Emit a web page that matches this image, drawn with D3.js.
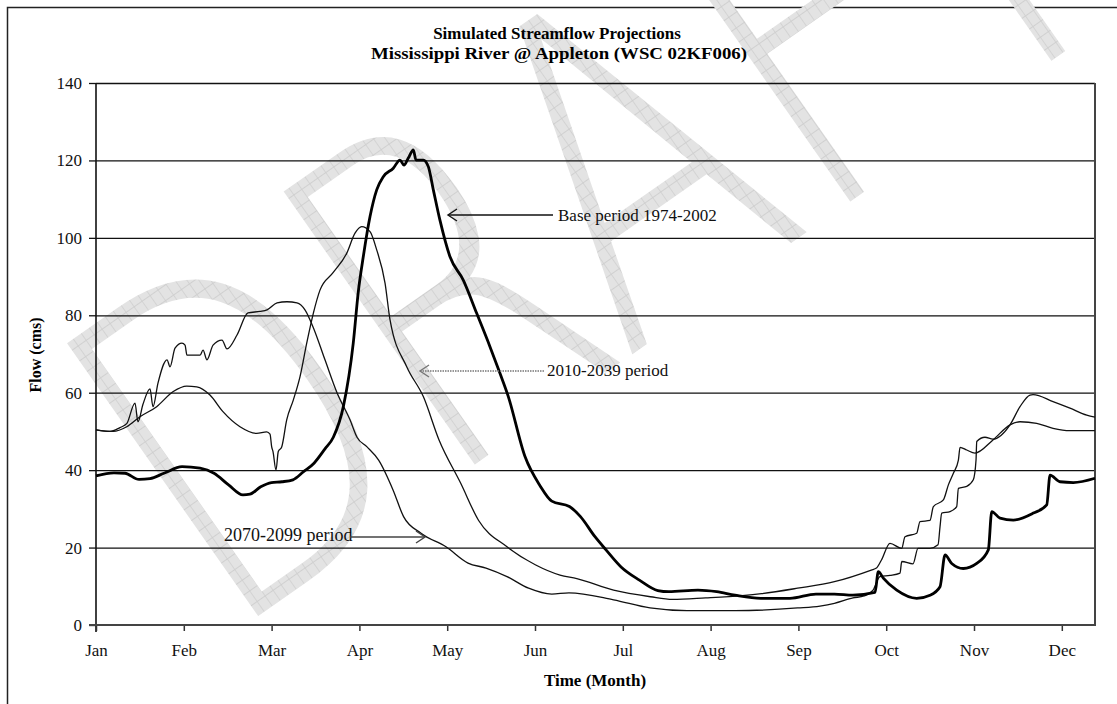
<!DOCTYPE html>
<html><head><meta charset="utf-8">
<script src="https://cdn.jsdelivr.net/npm/d3@7"></script>
<style>body{margin:0;background:#fff} svg{display:block}</style>
</head><body><svg id="c" width="1117" height="704"></svg>
<script>
const titleLines = ["Simulated Streamflow Projections", "Mississippi River @ Appleton (WSC 02KF006)"];
const months = ["Jan","Feb","Mar","Apr","May","Jun","Jul","Aug","Sep","Oct","Nov","Dec"];
const yTicks = [0,20,40,60,80,100,120,140];
// x = position in months from Jan 1 (month ticks equally spaced), y = flow (cms)
const basePeriod = [[0,38.5],[0.205,39.3],[0.33,39.2],[0.49,37.6],[0.615,37.8],[0.774,39.2],[0.98,40.9],[1.185,40.5],[1.344,39.2],[1.51,36.2],[1.674,33.6],[1.754,33.8],[1.876,35.7],[1.998,36.8],[2.118,37],[2.243,37.5],[2.364,39.6],[2.483,41.8],[2.608,45.5],[2.703,48.5],[2.817,56.4],[2.93,72.8],[2.987,86],[3.044,95.1],[3.121,105.5],[3.197,112.4],[3.272,115.8],[3.386,118],[3.462,120.1],[3.508,118.8],[3.557,120.6],[3.614,122.7],[3.645,120.1],[3.728,120.1],[3.785,118.4],[3.842,112.4],[3.918,104.5],[4.032,95.1],[4.183,89.1],[4.336,80.5],[4.487,71.9],[4.601,65],[4.696,59],[4.886,43.5],[5.057,36],[5.191,32],[5.392,30.6],[5.518,28],[5.683,22.8],[5.809,19.4],[5.98,15],[6.189,11.6],[6.399,8.9],[6.524,8.6],[6.856,9],[7.069,8.6],[7.278,7.7],[7.572,6.9],[7.904,6.9],[8.2,8],[8.41,8],[8.62,7.7],[8.872,8.4],[8.91,13.8],[8.967,12.1],[9.12,9],[9.347,6.9],[9.499,7.7],[9.613,9.9],[9.67,18.1],[9.746,15.9],[9.878,14.6],[10.031,15.9],[10.163,19.4],[10.202,29.3],[10.296,27.6],[10.448,27.1],[10.676,28.9],[10.828,31],[10.866,38.7],[10.98,37],[11.131,36.8],[11.378,37.9]];
const period2010 = [[0,50.4],[0.194,50],[0.35,51.2],[0.501,53.8],[0.691,56.4],[0.88,60.3],[1.033,61.7],[1.147,61.5],[1.298,59.4],[1.446,55.1],[1.64,51.2],[1.83,49.5],[1.944,49.9],[1.982,49.3],[2.001,46],[2.016,44.8],[2.05,40],[2.076,44.8],[2.115,46],[2.172,53],[2.247,58.1],[2.323,64.1],[2.4,72.8],[2.475,80.5],[2.551,86.5],[2.7,91],[2.855,96],[2.95,101.2],[3.026,102.9],[3.121,101.6],[3.197,96.9],[3.292,88.3],[3.349,78.8],[3.539,66.7],[3.728,59],[3.907,47.8],[4.154,36.6],[4.358,27],[4.681,20.2],[5.008,15.5],[5.285,12.9],[5.476,12],[5.895,9],[6.314,7.3],[6.566,6.6],[6.943,7],[7.36,7.6],[7.58,8.1],[7.99,9.5],[8.41,11.2],[8.83,14.2],[8.889,14.7],[8.946,16.8],[9.043,21.1],[9.176,19.8],[9.214,22.8],[9.347,23.7],[9.385,26.7],[9.499,27],[9.537,30.6],[9.651,32.3],[9.708,36.2],[9.765,39.2],[9.822,42.6],[9.841,45.9],[9.917,45.2],[10.011,44.4],[10.216,47.8],[10.41,51.7],[10.524,52.5],[10.714,52.1],[10.9,50.8],[11.093,50.2],[11.378,50.2]];
const period2070 = [[0,50.4],[0.16,50],[0.273,51],[0.35,52],[0.444,57.3],[0.478,52.5],[0.535,57],[0.615,61],[0.649,56.4],[0.706,62.5],[0.809,68.5],[0.843,66.7],[0.9,71.5],[0.979,72.8],[1.014,72.3],[1.036,69.7],[1.185,69.7],[1.219,71],[1.264,68.5],[1.333,72.3],[1.435,73.6],[1.492,71.3],[1.606,74.9],[1.731,80.6],[1.868,81],[1.948,81.4],[2.062,83.2],[2.175,83.5],[2.289,83.2],[2.38,81.4],[2.472,77],[2.608,68.5],[2.745,60],[2.893,53],[2.973,48.5],[3.087,46],[3.219,42.6],[3.383,34.9],[3.503,28],[3.702,23.7],[3.986,20.2],[4.237,16],[4.442,14.7],[4.681,12.5],[4.927,9.5],[5.191,8],[5.387,8.3],[5.895,6.5],[6.31,4.4],[6.731,3.7],[7.278,3.7],[7.991,4.4],[8.246,4.9],[8.41,5.6],[8.622,7],[8.747,7.5],[8.85,9],[8.929,12.5],[9.043,12.8],[9.157,13.4],[9.177,16.4],[9.305,15.8],[9.362,19.8],[9.499,19.8],[9.59,20.7],[9.613,25.4],[9.632,28.9],[9.727,29.3],[9.803,30.6],[9.822,35.3],[9.917,35.8],[9.992,37.5],[10.023,42.6],[10.031,47.4],[10.125,48.5],[10.216,48],[10.41,51.7],[10.524,56.4],[10.638,59.4],[10.672,59.5],[10.9,57.7],[11.093,56],[11.284,54.2],[11.378,53.7]];
const labels = {base:"Base period 1974-2002", p2010:"2010-2039 period", p2070:"2070-2099 period"};
const axisTitles = {x:"Time (Month)", y:"Flow (cms)"};
const watermark = "DRAFT";

const svg = d3.select("#c");
const FONT = "'Liberation Serif','Times New Roman',serif";
const L=96, R=1095, T=83, B=625;
const x = d3.scaleLinear().domain([0, 11.378]).range([L, R]);
const y = d3.scaleLinear().domain([0, 140]).range([B, T]);

// outer frame (only top/left visible)
svg.append("rect").attr("x",7.5).attr("y",7.5).attr("width",1200).attr("height",800)
  .attr("fill","#fff").attr("stroke","#222").attr("stroke-width",1.5);

// watermark
const defs = svg.append("defs");
const pat = defs.append("pattern").attr("id","hatch").attr("patternUnits","userSpaceOnUse").attr("width",13).attr("height",13);
pat.append("rect").attr("width",13).attr("height",13).attr("fill","#e3e3e3");
pat.append("path").attr("d","M0 0.5H13M0.5 0V13").attr("stroke","#cdcdcd").attr("stroke-width",1);
svg.append("text").text(watermark)
  .attr("transform","translate(224,640) rotate(-35) scale(0.75,1)")
  .attr("font-family","'DejaVu Sans'").attr("font-weight",200).attr("font-size",457)
  .attr("fill","url(#hatch)");

// gridlines
svg.append("g").attr("transform",`translate(${L},0)`)
  .call(d3.axisLeft(y).tickValues(yTicks.filter(v=>v>0)).tickSize(-(R-L)).tickFormat(""))
  .call(g=>g.select(".domain").remove())
  .call(g=>g.selectAll("line").attr("stroke","#111").attr("stroke-width",1.3));

// y axis
const ya = svg.append("g").attr("transform",`translate(${L},0)`)
  .call(d3.axisLeft(y).tickValues(yTicks).tickSize(7).tickPadding(7));
ya.select(".domain").remove();
ya.selectAll("line").attr("stroke","#111").attr("stroke-width",1.3);
ya.selectAll("text").attr("font-family",FONT).attr("font-size",17).attr("fill","#111");
svg.append("line").attr("x1",L).attr("x2",L).attr("y1",T).attr("y2",B+7).attr("stroke","#111").attr("stroke-width",1.6);
// right border
svg.append("line").attr("x1",R).attr("x2",R).attr("y1",T).attr("y2",B).attr("stroke","#444").attr("stroke-width",2);

// x axis
const xa = svg.append("g").attr("transform",`translate(0,${B})`)
  .call(d3.axisBottom(x).tickValues(d3.range(12)).tickFormat(i=>months[i]).tickSize(6).tickPadding(13));
xa.select(".domain").remove();
xa.selectAll("line").attr("stroke","#333").attr("stroke-width",1.5);
xa.selectAll("text").attr("font-family",FONT).attr("font-size",17).attr("fill","#111");
svg.append("line").attr("x1",L-7).attr("x2",R+1).attr("y1",B).attr("y2",B).attr("stroke","#444").attr("stroke-width",2.2);

// series
const line = d3.line().x(d=>x(d[0])).y(d=>y(d[1])).curve(d3.curveMonotoneX);
svg.append("path").datum(period2070).attr("d",line).attr("fill","none").attr("stroke","#111").attr("stroke-width",1.3);
svg.append("path").datum(period2010).attr("d",line).attr("fill","none").attr("stroke","#111").attr("stroke-width",1.3);
svg.append("path").datum(basePeriod).attr("d",line).attr("fill","none").attr("stroke","#000").attr("stroke-width",2.8).attr("stroke-linejoin","round");

// titles
svg.append("text").attr("x",557).attr("y",39).attr("text-anchor","middle").attr("font-family",FONT).attr("font-weight","bold").attr("font-size",17).text(titleLines[0]);
svg.append("text").attr("x",559).attr("y",59).attr("text-anchor","middle").attr("font-family",FONT).attr("font-weight","bold").attr("font-size",17)
  .attr("textLength",376).attr("lengthAdjust","spacingAndGlyphs").text(titleLines[1]);
svg.append("text").attr("x",595).attr("y",686).attr("text-anchor","middle").attr("font-family",FONT).attr("font-weight","bold").attr("font-size",17).text(axisTitles.x);
svg.append("text").attr("transform","translate(41,355) rotate(-90)").attr("text-anchor","middle").attr("font-family",FONT).attr("font-weight","bold").attr("font-size",16).text(axisTitles.y);

// annotations
function arrow(x1, x2, yy, color, dash){
  const dir = Math.sign(x1 - x2);
  const g = svg.append("g").attr("stroke",color).attr("fill","none").attr("stroke-width",1.4);
  g.append("line").attr("x1",x1).attr("x2",x2).attr("y1",yy).attr("y2",yy).attr("stroke-dasharray",dash||null);
  g.append("path").attr("d",`M${x2+dir*9},${yy-6}L${x2},${yy}L${x2+dir*9},${yy+6}`);
}
arrow(553, 448, 215, "#111");
svg.append("text").attr("x",558).attr("y",221).attr("font-family",FONT).attr("font-size",17).attr("fill","#111").text(labels.base);
arrow(544, 420, 371, "#777", "1.5,1");
svg.append("text").attr("x",547).attr("y",376).attr("font-family",FONT).attr("font-size",17).attr("fill","#111").text(labels.p2010);
svg.append("text").attr("x",224).attr("y",541).attr("font-family",FONT).attr("font-size",18).attr("fill","#111").text(labels.p2070);
arrow(350, 425, 537, "#444");
</script></body></html>
